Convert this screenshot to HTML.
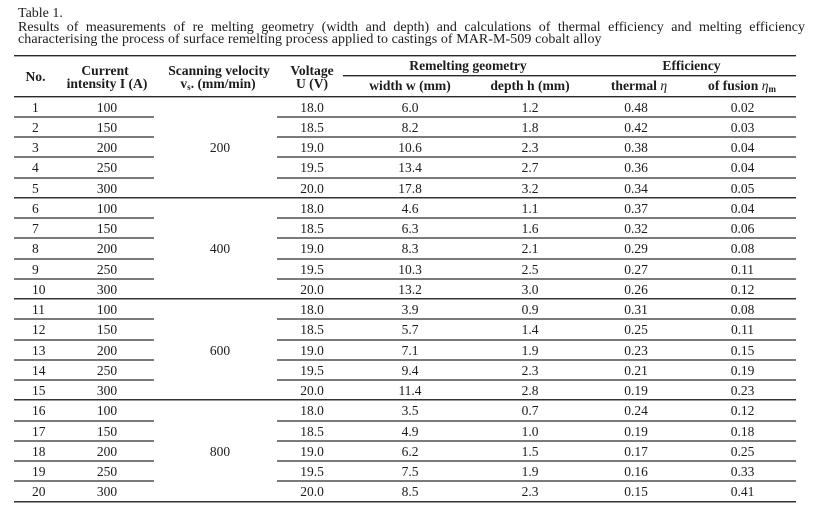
<!DOCTYPE html>
<html>
<head>
<meta charset="utf-8">
<style>
  html,body{margin:0;padding:0;background:#fff;}
  #w{position:relative;width:838px;height:512px;overflow:hidden;background:#fff;
     font-family:"Liberation Serif","DejaVu Serif",serif;color:#1c1c1c;}
  .t{position:absolute;left:18px;font-size:14px;line-height:24px;white-space:nowrap;}
  .j{width:787px;text-align:justify;text-align-last:justify;white-space:normal;}
  .h{position:absolute;font-size:13.6px;font-weight:bold;line-height:24px;white-space:nowrap;transform:translateX(-50%);}
  .r{position:absolute;left:0;width:838px;height:24px;font-size:13.5px;line-height:24px;}
  .r span{position:absolute;white-space:nowrap;transform:translateX(-50%);}
  .r span.n{transform:none;left:32px;}
  .a{left:107px}.v{left:220px}.u{left:312px}.wd{left:410px}.dp{left:530px}.th{left:636px}.fu{left:742.5px}
  .L{position:absolute;height:2px;background:#7a7a7a;}
  .D{position:absolute;height:1px;background:#2a2a2a;border-bottom:1px solid #aaa;}
  .F{position:absolute;height:1px;background:#333;border-bottom:1px solid #999;}
  sub{font-size:9px;vertical-align:-2px;line-height:0;}
  i{font-style:italic;font-weight:normal;}
</style>
</head>
<body>
<div id="w">
  <div class="t" style="top:2.3px">Table 1.</div>
  <div class="t j" style="top:15.6px">Results of measurements of re melting geometry (width and depth) and calculations of thermal efficiency and melting efficiency</div>
  <div class="t" style="top:28.3px;letter-spacing:0.07px">characterising the process of surface remelting process applied to castings of MAR-M-509 cobalt alloy</div>

  <!-- header lines -->
  <div class="D" style="top:55px;left:14px;width:782px"></div>
  <div class="D" style="top:74.5px;left:343px;width:453px"></div>
  <div class="D" style="top:95.7px;left:14px;width:782px"></div>

  <!-- header text -->
  <div class="h" style="top:65.1px;left:35.5px">No.</div>
  <div class="h" style="top:59.1px;left:105px">Current</div>
  <div class="h" style="top:71.7px;left:107px">intensity I (A)</div>
  <div class="h" style="top:59.1px;left:219px">Scanning velocity</div>
  <div class="h" style="top:71.7px;left:218px">v<sub>s</sub>. (mm/min)</div>
  <div class="h" style="top:59.1px;left:312px">Voltage</div>
  <div class="h" style="top:71.7px;left:312px">U (V)</div>
  <div class="h" style="top:53.9px;left:468px">Remelting geometry</div>
  <div class="h" style="top:53.9px;left:691.5px">Efficiency</div>
  <div class="h" style="top:73.9px;left:410px">width w (mm)</div>
  <div class="h" style="top:73.9px;left:530px">depth h (mm)</div>
  <div class="h" style="top:73.9px;left:639px">thermal <i>η</i></div>
  <div class="h" style="top:73.9px;left:742px">of fusion <i>η</i><sub>m</sub></div>

  <!-- row lines -->
  <div class="L" style="top:115.95px;left:14px;width:140px"></div><div class="L" style="top:115.95px;left:277px;width:519px"></div>
  <div class="L" style="top:136.2px;left:14px;width:140px"></div><div class="L" style="top:136.2px;left:277px;width:519px"></div>
  <div class="L" style="top:156.45px;left:14px;width:140px"></div><div class="L" style="top:156.45px;left:277px;width:519px"></div>
  <div class="L" style="top:176.7px;left:14px;width:140px"></div><div class="L" style="top:176.7px;left:277px;width:519px"></div>
  <div class="F" style="top:196.95px;left:14px;width:782px"></div>
  <div class="L" style="top:217.2px;left:14px;width:140px"></div><div class="L" style="top:217.2px;left:277px;width:519px"></div>
  <div class="L" style="top:237.45px;left:14px;width:140px"></div><div class="L" style="top:237.45px;left:277px;width:519px"></div>
  <div class="L" style="top:257.7px;left:14px;width:140px"></div><div class="L" style="top:257.7px;left:277px;width:519px"></div>
  <div class="L" style="top:277.95px;left:14px;width:140px"></div><div class="L" style="top:277.95px;left:277px;width:519px"></div>
  <div class="F" style="top:298.2px;left:14px;width:782px"></div>
  <div class="L" style="top:318.45px;left:14px;width:140px"></div><div class="L" style="top:318.45px;left:277px;width:519px"></div>
  <div class="L" style="top:338.7px;left:14px;width:140px"></div><div class="L" style="top:338.7px;left:277px;width:519px"></div>
  <div class="L" style="top:358.95px;left:14px;width:140px"></div><div class="L" style="top:358.95px;left:277px;width:519px"></div>
  <div class="L" style="top:379.2px;left:14px;width:140px"></div><div class="L" style="top:379.2px;left:277px;width:519px"></div>
  <div class="F" style="top:399.45px;left:14px;width:782px"></div>
  <div class="L" style="top:419.7px;left:14px;width:140px"></div><div class="L" style="top:419.7px;left:277px;width:519px"></div>
  <div class="L" style="top:439.95px;left:14px;width:140px"></div><div class="L" style="top:439.95px;left:277px;width:519px"></div>
  <div class="L" style="top:460.2px;left:14px;width:140px"></div><div class="L" style="top:460.2px;left:277px;width:519px"></div>
  <div class="L" style="top:480.45px;left:14px;width:140px"></div><div class="L" style="top:480.45px;left:277px;width:519px"></div>
  <div class="F" style="top:500.7px;left:14px;width:782px"></div>

  <!-- rows -->
  <div class="r" style="top:95.7px"><span class="n">1</span><span class="a">100</span><span class="u">18.0</span><span class="wd">6.0</span><span class="dp">1.2</span><span class="th">0.48</span><span class="fu">0.02</span></div>
  <div class="r" style="top:115.95px"><span class="n">2</span><span class="a">150</span><span class="u">18.5</span><span class="wd">8.2</span><span class="dp">1.8</span><span class="th">0.42</span><span class="fu">0.03</span></div>
  <div class="r" style="top:136.2px"><span class="n">3</span><span class="a">200</span><span class="v">200</span><span class="u">19.0</span><span class="wd">10.6</span><span class="dp">2.3</span><span class="th">0.38</span><span class="fu">0.04</span></div>
  <div class="r" style="top:156.45px"><span class="n">4</span><span class="a">250</span><span class="u">19.5</span><span class="wd">13.4</span><span class="dp">2.7</span><span class="th">0.36</span><span class="fu">0.04</span></div>
  <div class="r" style="top:176.7px"><span class="n">5</span><span class="a">300</span><span class="u">20.0</span><span class="wd">17.8</span><span class="dp">3.2</span><span class="th">0.34</span><span class="fu">0.05</span></div>
  <div class="r" style="top:196.95px"><span class="n">6</span><span class="a">100</span><span class="u">18.0</span><span class="wd">4.6</span><span class="dp">1.1</span><span class="th">0.37</span><span class="fu">0.04</span></div>
  <div class="r" style="top:217.2px"><span class="n">7</span><span class="a">150</span><span class="u">18.5</span><span class="wd">6.3</span><span class="dp">1.6</span><span class="th">0.32</span><span class="fu">0.06</span></div>
  <div class="r" style="top:237.45px"><span class="n">8</span><span class="a">200</span><span class="v">400</span><span class="u">19.0</span><span class="wd">8.3</span><span class="dp">2.1</span><span class="th">0.29</span><span class="fu">0.08</span></div>
  <div class="r" style="top:257.7px"><span class="n">9</span><span class="a">250</span><span class="u">19.5</span><span class="wd">10.3</span><span class="dp">2.5</span><span class="th">0.27</span><span class="fu">0.11</span></div>
  <div class="r" style="top:277.95px"><span class="n">10</span><span class="a">300</span><span class="u">20.0</span><span class="wd">13.2</span><span class="dp">3.0</span><span class="th">0.26</span><span class="fu">0.12</span></div>
  <div class="r" style="top:298.2px"><span class="n">11</span><span class="a">100</span><span class="u">18.0</span><span class="wd">3.9</span><span class="dp">0.9</span><span class="th">0.31</span><span class="fu">0.08</span></div>
  <div class="r" style="top:318.45px"><span class="n">12</span><span class="a">150</span><span class="u">18.5</span><span class="wd">5.7</span><span class="dp">1.4</span><span class="th">0.25</span><span class="fu">0.11</span></div>
  <div class="r" style="top:338.7px"><span class="n">13</span><span class="a">200</span><span class="v">600</span><span class="u">19.0</span><span class="wd">7.1</span><span class="dp">1.9</span><span class="th">0.23</span><span class="fu">0.15</span></div>
  <div class="r" style="top:358.95px"><span class="n">14</span><span class="a">250</span><span class="u">19.5</span><span class="wd">9.4</span><span class="dp">2.3</span><span class="th">0.21</span><span class="fu">0.19</span></div>
  <div class="r" style="top:379.2px"><span class="n">15</span><span class="a">300</span><span class="u">20.0</span><span class="wd">11.4</span><span class="dp">2.8</span><span class="th">0.19</span><span class="fu">0.23</span></div>
  <div class="r" style="top:399.45px"><span class="n">16</span><span class="a">100</span><span class="u">18.0</span><span class="wd">3.5</span><span class="dp">0.7</span><span class="th">0.24</span><span class="fu">0.12</span></div>
  <div class="r" style="top:419.7px"><span class="n">17</span><span class="a">150</span><span class="u">18.5</span><span class="wd">4.9</span><span class="dp">1.0</span><span class="th">0.19</span><span class="fu">0.18</span></div>
  <div class="r" style="top:439.95px"><span class="n">18</span><span class="a">200</span><span class="v">800</span><span class="u">19.0</span><span class="wd">6.2</span><span class="dp">1.5</span><span class="th">0.17</span><span class="fu">0.25</span></div>
  <div class="r" style="top:460.2px"><span class="n">19</span><span class="a">250</span><span class="u">19.5</span><span class="wd">7.5</span><span class="dp">1.9</span><span class="th">0.16</span><span class="fu">0.33</span></div>
  <div class="r" style="top:480.45px"><span class="n">20</span><span class="a">300</span><span class="u">20.0</span><span class="wd">8.5</span><span class="dp">2.3</span><span class="th">0.15</span><span class="fu">0.41</span></div>
</div>
</body>
</html>
